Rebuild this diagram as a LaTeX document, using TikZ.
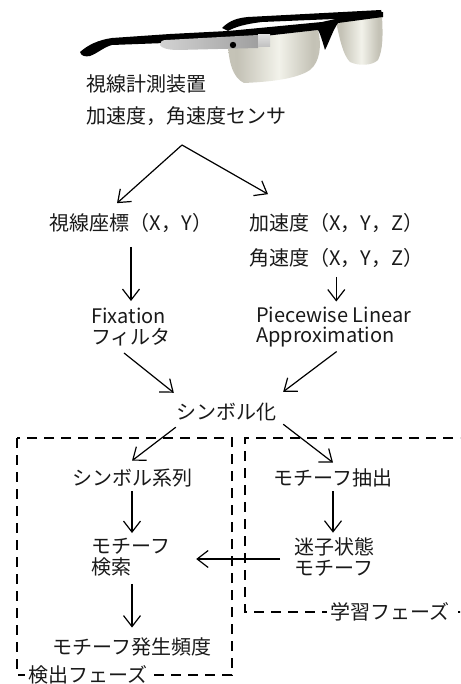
\documentclass[tikz,border=0pt]{standalone}
\usepackage{fontspec}
\setmainfont{Noto Sans CJK JP}
\usetikzlibrary{arrows.meta,calc}
\definecolor{lensA}{RGB}{196,194,182}
\definecolor{lensB}{RGB}{242,242,234}
\definecolor{lensC}{RGB}{206,204,192}
\pgfdeclarehorizontalshading{lens}{100bp}{color(0bp)=(lensC); color(30bp)=(lensA); color(52bp)=(lensB); color(70bp)=(lensA); color(100bp)=(lensC)}
\begin{document}
\begin{tikzpicture}[x=1pt,y=-1pt,
  lbl/.style={inner sep=0pt,text=black!90,font=\fontsize{20}{20.5}\selectfont},
  arr/.style={-{Straight Barb[length=11pt,width=17pt]},line width=1.2pt},
  phase/.style={dashed,dash pattern=on 10pt off 7pt,line width=1.2pt},
  tag/.style={lbl,fill=white,inner xsep=3pt}]
\useasboundingbox (0,0) rectangle (460,684);
\clip (0,0) rectangle (460,684);

% --- eyewear with head-mounted eye tracker ---
% far temple arm
\fill[black] (222,28) .. controls (230,20) and (238,18) .. (248,17) -- (381,10) -- (383,17) -- (262,22) .. controls (245,24) and (235,27) .. (228,31) -- cycle;
% lenses
\path[shading=lens] (228,40) -- (318,30) .. controls (322,45) and (320,62) .. (310,70) .. controls (295,80) and (265,82) .. (244,83) .. controls (233,78) and (228,62) .. (228,40) -- cycle;
\path[shading=lens] (336,22) -- (382,16) .. controls (383,35) and (383,50) .. (378,60) .. controls (372,66) and (358,66) .. (350,62) .. controls (343,55) and (340,40) .. (336,22) -- cycle;
% front frame and near temple arm
\fill[black] (80,52) .. controls (88,45) and (98,40) .. (112,38) -- (170,34) -- (228,31) -- (322,22) -- (340,18) -- (383,12) -- (383,17) -- (338,23)
  .. controls (333,30) and (330,40) .. (325,50) .. controls (322,40) and (320,33) .. (318,30) -- (229,40) -- (165,43) -- (112,45)
  .. controls (104,47) and (98,53) .. (90,56) .. controls (85,57) and (81,56) .. (80,52) -- cycle;
% display module
\shade[left color=gray!35,right color=gray!75] (160,45) .. controls (160,42) and (162,40) .. (166,40) -- (258,35) -- (258,48) -- (178,50) .. controls (168,50) and (161,48) .. (160,45) -- cycle;
\shade[top color=gray!25,bottom color=gray!50] (258,35) rectangle (270,47);
\fill[black] (233,45) circle (3.2);

% --- texts ---
\node[lbl,anchor=west] (dev) at (86,84) {視線計測装置};
\node[lbl,anchor=west] (sensor) at (86,116) {加速度，角速度センサ};
\coordinate (fork) at (182,145);
\node[lbl] (gaze) at (131,223) {視線座標（X，Y）};
\node[lbl,anchor=west] (acc) at (249,223) {加速度（X，Y，Z）};
\node[lbl,anchor=west] (angv) at (249,258) {角速度（X，Y，Z）};
\node[lbl,anchor=west,align=left] (fix) at (91,327) {Fixation\\フィルタ};
\node[lbl,anchor=west,align=left] (pla) at (256,327) {Piecewise Linear\\Approximation};
\node[lbl] (sym) at (226,412) {シンボル化};
\node[lbl] (seq) at (132,478) {シンボル系列};
\node[lbl] (ext) at (333,478) {モチーフ抽出};
\node[lbl,anchor=west,align=left] (search) at (91,557) {モチーフ\\検索};
\node[lbl,anchor=west,align=left] (lost) at (294,557) {迷子状態\\モチーフ};
\node[lbl] (freq) at (132,647) {モチーフ発生頻度};

% --- phase frames ---
\draw[phase] (17,438) rectangle (232,675);
\draw[phase] (470,438) -- (245,438) -- (245,612) -- (470,612);
\node[tag,anchor=west] (det) at (25,675) {検出フェーズ};
\node[tag,anchor=west] (learn) at (327,612) {学習フェーズ};

% --- connectors ---
\draw[arr] (fork) -- ([xshift=-14pt,yshift=10pt]gaze.north);
\draw[arr] (fork) -- ([xshift=19pt,yshift=19pt]acc.north west);
\draw[arr] ([yshift=-14pt]gaze.south) -- ([yshift=7pt]gaze.south |- fix.north);
\draw[arr] ([yshift=-9pt]angv.south) -- ([yshift=5pt]angv.south |- pla.north);
\draw[arr] ([xshift=-7pt,yshift=-7pt]fix.south) -- ([xshift=-2pt,yshift=10pt]sym.north west);
\draw[arr] ([xshift=3pt,yshift=-4pt]pla.south) -- ([xshift=7pt,yshift=11pt]sym.north east);
\draw[arr] ([yshift=-6pt]sym.south west) -- ([yshift=8pt]seq.north);
\draw[arr] ([xshift=7pt,yshift=-3pt]sym.south east) -- ([yshift=6pt]ext.north);
\draw[arr] ([yshift=-4pt]seq.south) -- ([yshift=5pt]seq.south |- search.north);
\draw[arr] ([yshift=-4pt]ext.south) -- ([yshift=5pt]ext.south |- lost.north);
\draw[arr] ([xshift=-14pt,yshift=-2pt]lost.west) -- ([xshift=26pt,yshift=-2pt]search.east);
\draw[arr] ([yshift=-8pt]seq.south |- search.south) -- ([yshift=10pt]freq.north);
\end{tikzpicture}
\end{document}
